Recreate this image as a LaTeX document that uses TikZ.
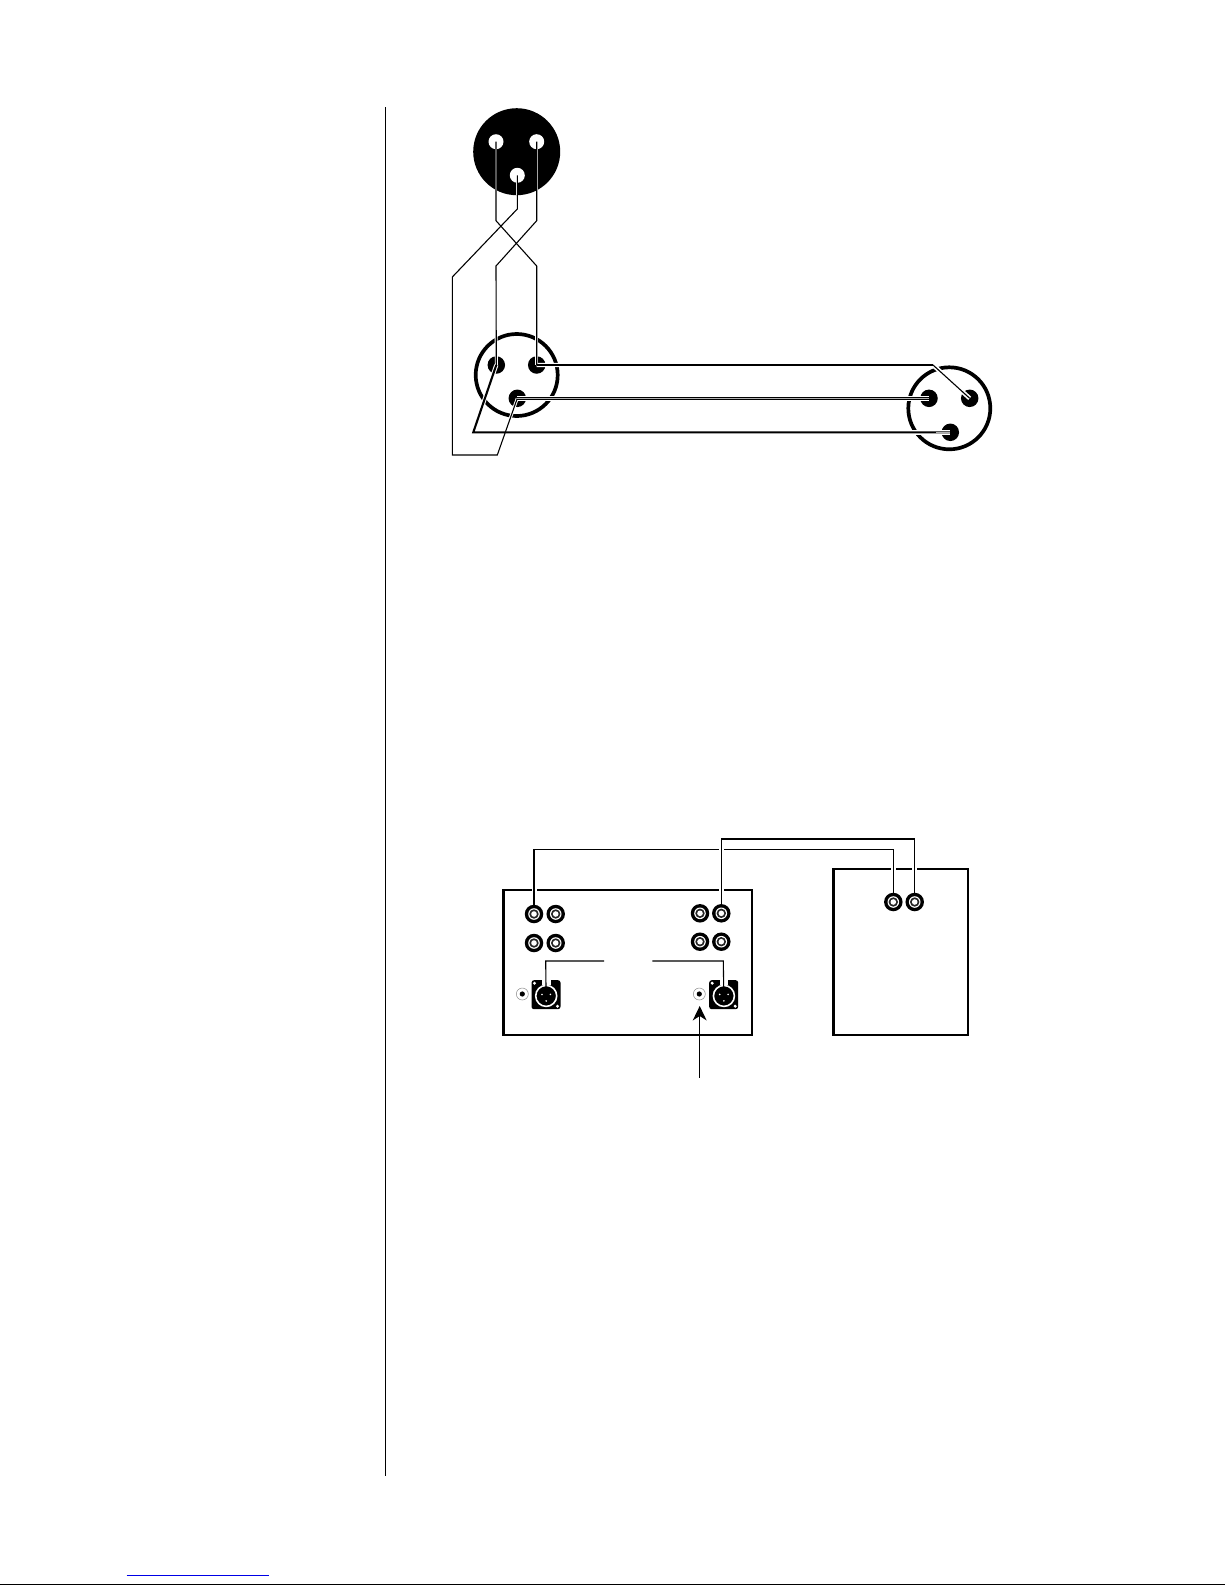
\documentclass[tikz,border=0pt]{standalone}
\usetikzlibrary{calc}
\definecolor{linkblue}{RGB}{0,0,230}
\tikzset{
  wirethin/.style={line width=1.1pt,line join=miter},
  wirehalo/.style={line width=5pt,draw=white},
  boxframe/.style={draw=black,line width=2.4pt,fill=white},
  ringouter/.style={circle,draw=black,line width=3.7pt,minimum size=82pt,inner sep=0pt,fill=white},
  pinblack/.style={circle,fill=black,minimum size=17.5pt,inner sep=0pt},
  pinwhite/.style={circle,fill=white,minimum size=15pt,inner sep=0pt},
  discblack/.style={circle,fill=black,minimum size=87pt,inner sep=0pt},
  rca/.style={circle,fill=black,minimum size=18.5pt,inner sep=0pt,
    path picture={\fill[white] (path picture bounding box.center) circle (5.8pt);
      \fill[black!85] (path picture bounding box.center) circle (4.7pt);
      \fill[white] (path picture bounding box.center) circle (2.8pt);}},
  smalljack/.style={circle,draw=black!45,line width=0.5pt,fill=white,minimum size=12pt,inner sep=0pt,
    path picture={\fill[black] (path picture bounding box.center) circle (2.6pt);}},
  xlrpanel/.style={rounded corners=2.5pt,fill=black,minimum width=29pt,minimum height=29pt,inner sep=0pt},
  xlrface/.style={circle,draw=white,line width=1.6pt,fill=black,minimum size=21pt,inner sep=0pt},
  xlrdot/.style={circle,fill=white,minimum size=1.8pt,inner sep=0pt},
  xlrscrew/.style={circle,fill=white,minimum size=3.4pt,inner sep=0pt},
  rule/.style={line width=1pt,draw=black}
}
\newcommand{\xlrjack}[3]{% name, x, y
  \node[xlrpanel] (#1) at (#2,#3) {};
  \fill[white] ($(#1)+(-4,-15)$) rectangle ($(#1)+(4.6,-10)$);
  \node[xlrface] (#1f) at ($(#1)+(0.2,1.2)$) {};
  \node[xlrdot] at ($(#1f)+(-4.2,-1.5)$) {};
  \node[xlrdot] at ($(#1f)+(4.2,-1.5)$) {};
  \node[xlrdot] at ($(#1f)+(0,5)$) {};
  \node[xlrscrew] at ($(#1)+(-11.5,-11.5)$) {};
  \node[xlrscrew] at ($(#1)+(11.5,11.5)$) {};
}
\begin{document}
\begin{tikzpicture}[x=1pt,y=-1pt]
\useasboundingbox (0,0) rectangle (1225,1585);
\fill[white] (0,0) rectangle (1225,1585);

% page furniture
\coordinate (vt) at (385.3,107);
\coordinate (vb) at (385.3,1475.7);
\draw[rule] (vt) -- (vb);
\coordinate (bl) at (126.7,1575);
\coordinate (br) at (269,1575);
\draw[draw=linkblue,line width=1pt] (bl) -- (br);
\coordinate (fl) at (0,1584.3);
\coordinate (fr) at (1225,1584.3);
\draw[draw=black,line width=1.2pt] (fl) -- (fr);

% top connector
\node[discblack] (topdisc) at (516.7,151.7) {};
\node[pinwhite] (tp1) at (496,141.7) {};
\node[pinwhite] (tp2) at (536.7,141.7) {};
\node[pinwhite] (tp3) at (517.3,175.3) {};

% middle and right connectors
\node[ringouter] (midring) at (516.7,375) {};
\node[pinblack] (mp1) at (496.3,365) {};
\node[pinblack] (mp2) at (536.7,365) {};
\node[pinblack] (mp3) at (517.3,398.3) {};
\node[ringouter] (rightring) at (949.3,408.3) {};
\node[pinblack] (rp1) at (929,398.3) {};
\node[pinblack] (rp2) at (969.7,398.3) {};
\node[pinblack] (rp3) at (950.3,432.3) {};

% junction coordinates
\coordinate (a1) at (496,220.7);
\coordinate (a2) at (536.7,266);
\coordinate (b1) at (536.7,220.7);
\coordinate (b2) at (496,266);
\coordinate (c1) at (517.3,209);
\coordinate (c2) at (452.3,277);
\coordinate (c3) at (452.3,455);
\coordinate (c4) at (497.3,455);
\coordinate (d1) at (473.3,432.3);
\coordinate (e1) at (536.7,365);
\coordinate (e2) at (933,365);

% halos where wires pass over the rings and pins
\draw[line width=4.6pt,draw=white] (mp3.center) -- (rp1.center);
\draw[line width=4.4pt,draw=white] (mp2.center) -- (e2) -- (rp2.center);
\draw[line width=4.4pt,draw=white] (d1) -- (rp3.center);
\draw[line width=4.2pt,draw=white] (mp1.center) -- (d1);
\draw[line width=3pt,draw=white] (c4) -- (mp3.center);
\draw[line width=3pt,draw=white] (b2) -- (mp1.center);
\draw[line width=3pt,draw=white] (a2) -- (e1);

% twisted wires: white slivers inside the black disc first
\draw[draw=white,line width=1.8pt] (496,149) -- (496,192);
\draw[draw=white,line width=1.8pt] (536.7,149) -- (536.7,192);
\draw[draw=white,line width=1.8pt] (517.3,182) -- (517.3,194.5);
\draw[wirethin] (tp1.center) -- (a1) -- (a2) -- (e1);
\draw[wirethin] (tp2.center) -- (b1) -- (b2) -- (mp1.center);
\draw[wirethin] (tp3.center) -- (c1) -- (c2) -- (c3) -- (c4) -- (mp3.center);

% wires into the right connector
\draw[line width=2.1pt,line join=miter] (mp1.center) -- (d1) -- (rp3.center);
\draw[line width=2.1pt,line join=miter] (mp2.center) -- (e2);
\draw[line width=1.1pt] (e2) -- (rp2.center);
\draw[line width=2.6pt] (mp3.center) -- (rp1.center);
\draw[draw=white!70!black,line width=0.7pt] (mp3.center) -- (rp1.center);
\draw[draw=white!70!black,line width=0.6pt] ($(rp3.center)+(-14,0)$) -- (rp3.center);

% lower boxes
\path[boxframe] (503.3,890) rectangle (751.7,1034.7);
\path[boxframe] (833.3,868.7) rectangle (968,1034.7);

% interconnect halos sit under the jacks
\coordinate (wa1) at (534,849.3);
\coordinate (wa2) at (893.3,849.3);
\coordinate (wb1) at (721.3,839);
\coordinate (wb2) at (914.7,839);
\draw[wirehalo] (534,880) -- (534,900);
\draw[wirehalo] (721.3,880) -- (721.3,900);
\draw[wirehalo] (893.3,860) -- (893.3,880);
\draw[wirehalo] (914.7,860) -- (914.7,880);

\node[rca] (j1) at (534,914) {};
\node[rca] (j2) at (555.7,914) {};
\node[rca] (j3) at (534,943) {};
\node[rca] (j4) at (555.7,943) {};
\node[rca] (j5) at (700,913.3) {};
\node[rca] (j6) at (721.3,913.3) {};
\node[rca] (j7) at (700,941.7) {};
\node[rca] (j8) at (721.3,941.7) {};
\node[rca] (k1) at (893.3,902) {};
\node[rca] (k2) at (914.7,902) {};
\node[smalljack] (s1) at (522.3,994) {};
\node[smalljack] (s2) at (699.3,994) {};
\xlrjack{xa}{546}{994.7}
\xlrjack{xb}{723.7}{994.7}

% interconnect wires end at the top of each jack
\draw[line width=1.1pt,line join=miter] (j1.north) -- (wa1) -- (wa2) -- (k1.north);
\draw[wirehalo] (721.3,845) -- (721.3,855);
\draw[line width=1.1pt] (j6.north) -- (wb1);
\draw[line width=1.8pt] (wb1) -- (wb2);
\draw[line width=1.1pt] (wb2) -- (k2.north);

% XLR link
\coordinate (la) at (604,961);
\coordinate (lb) at (545.7,961);
\coordinate (ra) at (652.3,961);
\coordinate (rb) at (723.3,961);
\draw[line width=1.1pt] (la) -- (lb) -- (xa.center |- 0,987.5);
\draw[line width=1.1pt] (ra) -- (rb) -- (xb.center |- 0,987.5);

% arrow to the small jack
\coordinate (arrS) at (699.7,1077.7);
\coordinate (arrT) at (699.7,1006);
\draw[line width=1pt] (arrS) -- (699.7,1016);
\fill[black] (arrT) -- (706.7,1020.5) -- (699.7,1016) -- (692.7,1020.5) -- cycle;
\end{tikzpicture}
\end{document}
